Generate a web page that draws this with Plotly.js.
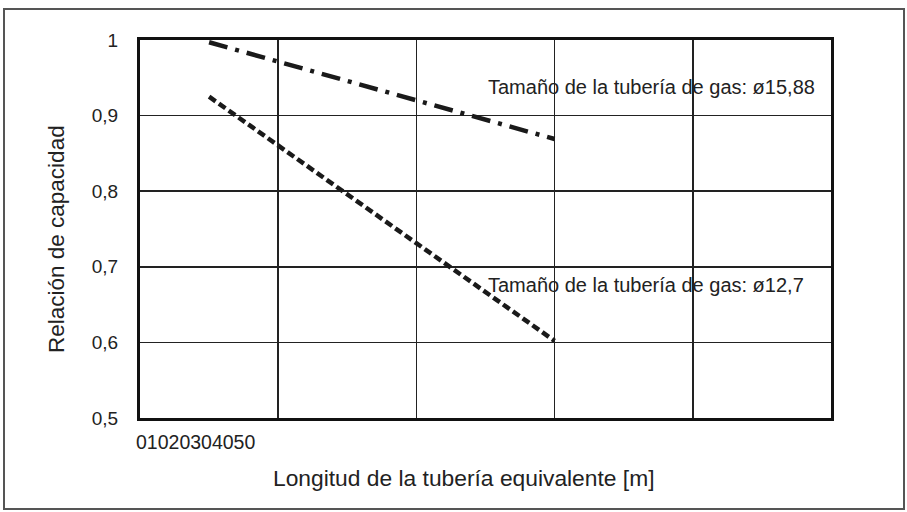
<!DOCTYPE html>
<html>
<head>
<meta charset="utf-8">
<script src="https://cdn.plot.ly/plotly-3.0.1.min.js"></script>
<style>
  html, body { margin: 0; padding: 0; background: #fff; }
  #app { width: 907px; height: 512px; }
</style>
</head>
<body>
<div id="app"></div>
<script>
// pipe length [m] and capacity ratio for each gas pipe size
let length_m = [5, 30];
let ratio_1588 = [0.997, 0.869];
let ratio_127 = [0.925, 0.602];
let series_names = ["Tamaño de la tubería de gas: ø15,88", "Tamaño de la tubería de gas: ø12,7"];

// axis ticks
let x_ticks = [0, 10, 20, 30, 40, 50];
let x_tick_text = ["0", "10", "20", "30", "40", "50"];
let y_ticks = [0.5, 0.6, 0.7, 0.8, 0.9, 1];
let y_tick_text = ["0,5", "0,6", "0,7", "0,8", "0,9", "1"];

function display() {
    let root = document.getElementById("app");
    let font = "Liberation Sans, Arial, sans-serif";
    let ink = "#222";

    let data = [
        {
            x: length_m, y: ratio_1588, type: "scatter", mode: "lines",
            name: series_names[0], hoverinfo: "skip", cliponaxis: false,
            line: {color: "#1a1a1a", width: 4.5, dash: "19px,8px,4px,8px"}
        },
        {
            x: length_m, y: ratio_127, type: "scatter", mode: "lines",
            name: series_names[1], hoverinfo: "skip", cliponaxis: false,
            line: {color: "#1a1a1a", width: 4.5, dash: "8px,4px"}
        }
    ];

    let layout = {
        width: 907,
        height: 512,
        showlegend: false,
        paper_bgcolor: "#fff",
        plot_bgcolor: "#fff",
        separators: ",.",
        margin: {l: 140, r: 76, t: 40, b: 94},
        font: {family: font, color: ink, size: 16},
        xaxis: {
            range: [0, 50],
            tickvals: x_ticks,
            showticklabels: false,
            showgrid: true,
            gridcolor: "#222",
            gridwidth: 1.5,
            zeroline: false,
            showline: true,
            linecolor: "#111",
            linewidth: 3,
            mirror: true,
            fixedrange: true
        },
        yaxis: {
            range: [0.5, 1],
            tickvals: y_ticks,
            ticktext: y_tick_text,
            ticks: "outside",
            ticklen: 15,
            tickcolor: "rgba(0,0,0,0)",
            tickfont: {family: font, size: 19, color: ink},
            showgrid: true,
            gridcolor: "#222",
            gridwidth: 1.5,
            zeroline: false,
            showline: true,
            linecolor: "#111",
            linewidth: 3,
            mirror: true,
            fixedrange: true
        },
        shapes: [
            // outer frame around the figure
            {
                type: "rect", xref: "paper", yref: "paper",
                x0: -136 / 691, x1: 1 + 73 / 691,
                y0: -91 / 378, y1: 1 + 31 / 378,
                line: {color: "#555", width: 2}
            }
        ],
        annotations: [
            {
                x: 25.05, y: 0.938, xanchor: "left", yanchor: "middle",
                text: series_names[0], showarrow: false,
                font: {family: font, size: 20, color: ink}
            },
            {
                x: 25.05, y: 0.676, xanchor: "left", yanchor: "middle",
                text: series_names[1], showarrow: false,
                font: {family: font, size: 20, color: ink}
            },
            // x tick labels, printed run together under the left corner
            {
                xref: "paper", yref: "paper",
                x: -6 / 691, y: -24 / 378, xanchor: "left", yanchor: "middle",
                text: x_tick_text.join(""), showarrow: false,
                font: {family: font, size: 19.5, color: ink}
            },
            // axis titles
            {
                xref: "paper", yref: "paper",
                x: 323 / 691, y: -60 / 378, xanchor: "center", yanchor: "middle",
                text: "Longitud de la tubería equivalente [m]", showarrow: false,
                font: {family: font, size: 22.8, color: ink}
            },
            {
                xref: "paper", yref: "paper",
                x: -84 / 691, y: 179 / 378, xanchor: "center", yanchor: "middle",
                text: "Relación de capacidad", textangle: -90, showarrow: false,
                font: {family: font, size: 22.5, color: ink}
            }
        ]
    };

    let config = {displayModeBar: false, staticPlot: true};

    Plotly.newPlot(root, data, layout, config);
}

display();
</script>
</body>
</html>
